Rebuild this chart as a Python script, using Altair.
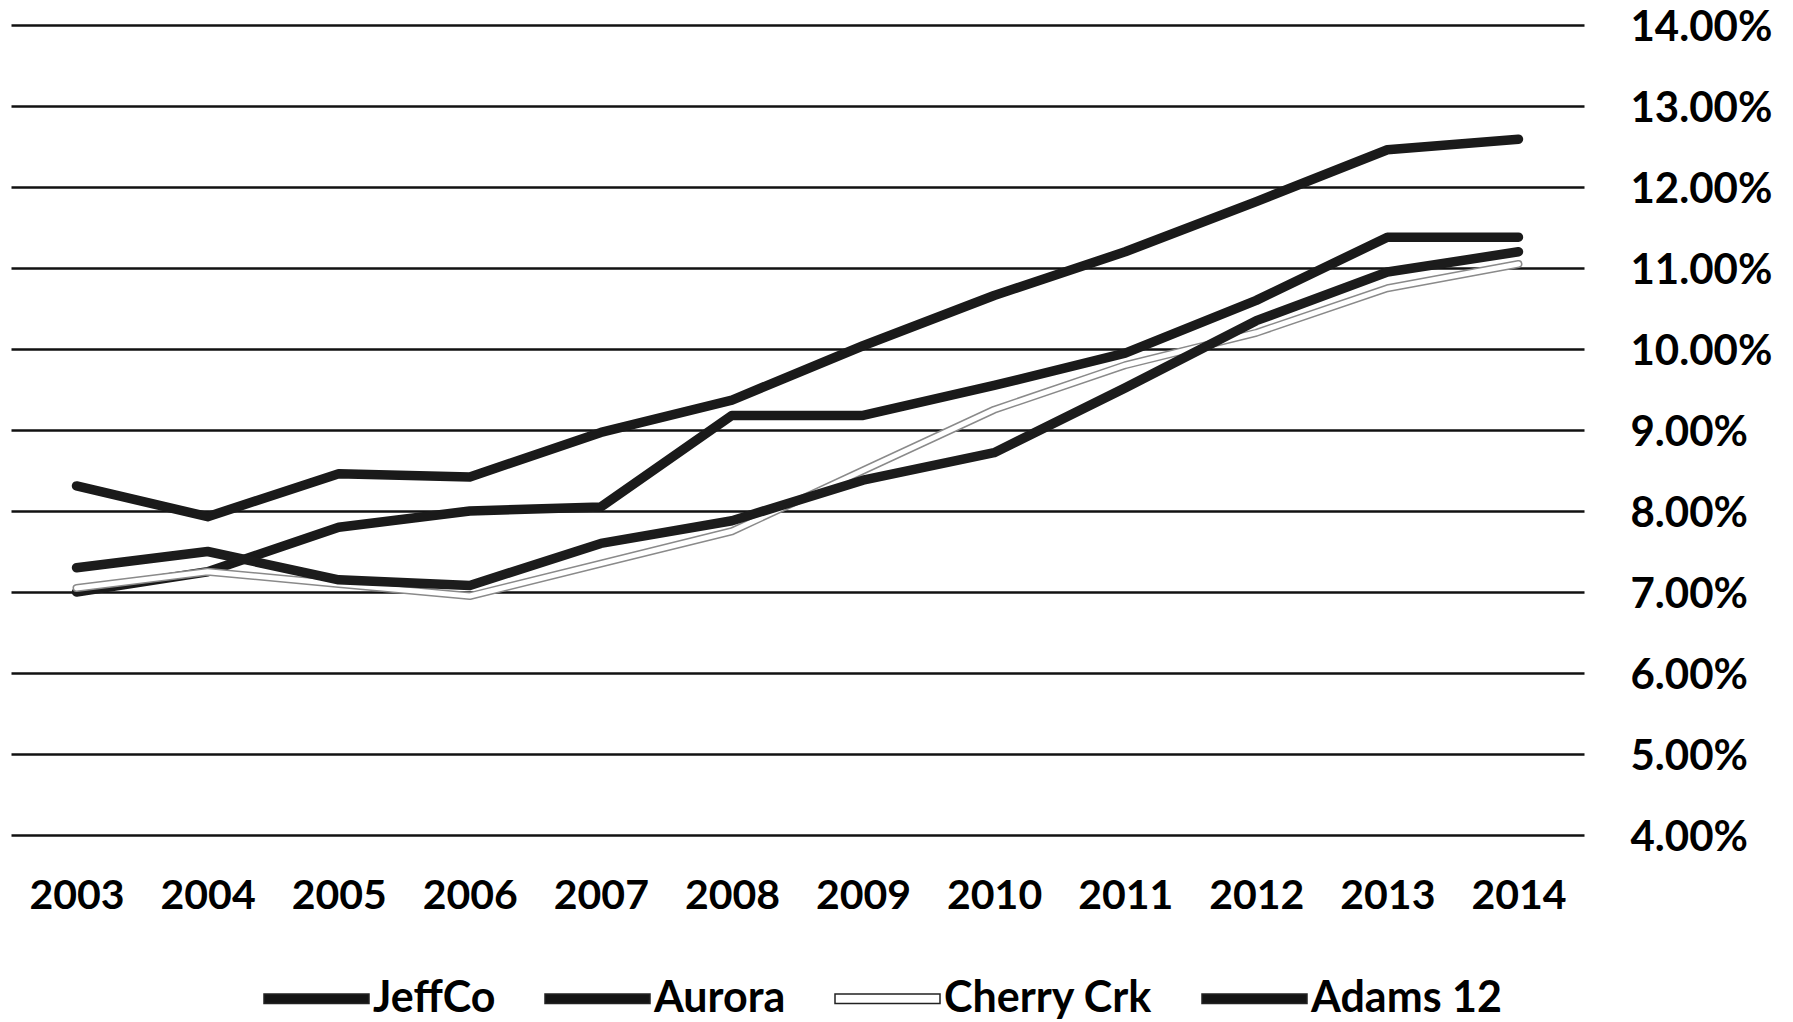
import altair as alt
import pandas as pd

years = ["2003", "2004", "2005", "2006", "2007", "2008",
         "2009", "2010", "2011", "2012", "2013", "2014"]
series_names = ["JeffCo", "Aurora", "Cherry Crk", "Adams 12"]

jeffco = [8.31, 7.93, 8.46, 8.42, 8.97, 9.37, 10.04, 10.66, 11.20, 11.82, 12.46, 12.59]
aurora = [7.00, 7.25, 7.80, 8.00, 8.05, 9.18, 9.18, 9.55, 9.95, 10.60, 11.38, 11.38]
cherry = [7.05, 7.25, 7.10, 6.95, 7.35, 7.75, 8.50, 9.25, 9.80, 10.20, 10.75, 11.05]
adams = [7.30, 7.50, 7.15, 7.08, 7.60, 7.88, 8.38, 8.72, 9.52, 10.35, 10.95, 11.20]

y_ticks = [4, 5, 6, 7, 8, 9, 10, 11, 12, 13, 14]

series_values = {"JeffCo": jeffco, "Aurora": aurora, "Cherry Crk": cherry, "Adams 12": adams}
rows = []
for name in series_names:
    for yr, v in zip(years, series_values[name]):
        rows.append({"year": yr, "series": name, "value": v})
df = pd.DataFrame(rows)

FONT = "Lato"
DARK = "#1a1a1a"

x_enc = alt.X(
    "year:O", sort=years,
    scale=alt.Scale(type="point", padding=0.5),
    axis=alt.Axis(title=None, labelAngle=0, labelFont=FONT, labelFontWeight="bold",
                  labelFontSize=41, labelColor="black", labelPadding=41,
                  domain=False, ticks=False, grid=False),
)
y_enc = alt.Y(
    "value:Q",
    scale=alt.Scale(domain=[4, 14], nice=False, zero=False),
    axis=alt.Axis(orient="right", values=y_ticks, title=None,
                  labelExpr="format(datum.value, '.2f') + '%'",
                  domain=False, ticks=False, grid=True, gridColor="#111111",
                  gridWidth=2.5, labelAlign="left", labelBaseline="middle",
                  labelPadding=46, labelOffset=2, labelFont=FONT, labelFontWeight="bold",
                  labelFontSize=42, labelColor="black"),
)

legend = alt.Legend(
    title=None, orient="none", legendX=252, legendY=920, direction="horizontal",
    symbolType="M-1,-0.09L1,-0.09L1,0.09L-1,0.09Z", symbolSize=11025,
    symbolStrokeWidth=1.5, symbolStrokeColor="#222222", symbolOpacity=1,
    labelFont=FONT, labelFontWeight="bold",
    labelFontSize=43, labelColor="black", labelOffset=3, columnPadding=46,
    labelLimit=400,
)
legend_scale = alt.Scale(domain=series_names,
                         range=["#141414", "#141414", "#ffffff", "#141414"])

base = alt.Chart(df)
line_kw = dict(strokeCap="round", strokeJoin="round")

dark_lines = base.transform_filter(
    alt.FieldOneOfPredicate(field="series", oneOf=["JeffCo", "Aurora"])
).mark_line(strokeWidth=9.5, color=DARK, **line_kw).encode(
    x=x_enc, y=y_enc, detail="series:N")

cherry_outer = base.transform_filter(alt.datum.series == "Cherry Crk").mark_line(
    strokeWidth=8, color="#8a8a8a", **line_kw).encode(x=x_enc, y=y_enc)

cherry_inner = base.transform_filter(alt.datum.series == "Cherry Crk").mark_line(
    strokeWidth=5, color="#ffffff", **line_kw).encode(x=x_enc, y=y_enc)

adams_line = base.transform_filter(alt.datum.series == "Adams 12").mark_line(
    strokeWidth=9.5, color="#1c1c1c", **line_kw).encode(x=x_enc, y=y_enc)

legend_layer = base.mark_point(filled=True, size=0, opacity=1).encode(
    x=x_enc, y=y_enc,
    color=alt.Color("series:N", scale=legend_scale, sort=series_names, legend=legend),
)

chart = alt.layer(dark_lines, cherry_outer, cherry_inner, adams_line, legend_layer).properties(
    width=1573, height=810,
    autosize=alt.AutoSizeParams(type="none"),
    padding={"left": 3, "top": 17, "right": 195, "bottom": 185},
    background="white",
).configure_view(stroke=None)

chart.save("out.html", embed_options={"renderer": "svg", "actions": False})
